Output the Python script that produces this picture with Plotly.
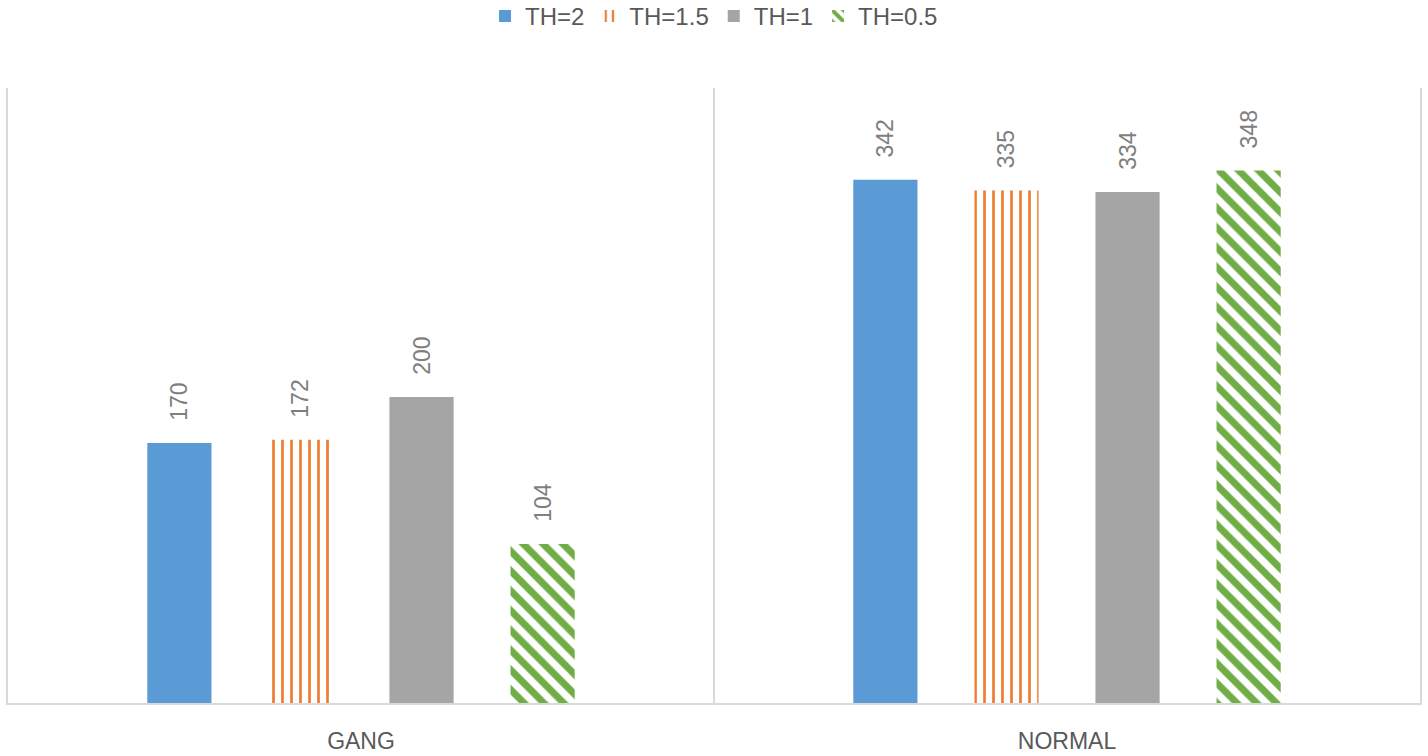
import plotly.graph_objects as go

categories = ["GANG", "NORMAL"]
series_names = ["TH=2", "TH=1.5", "TH=1", "TH=0.5"]
th2 = [170, 342]
th15 = [172, 335]
th1 = [200, 334]
th05 = [104, 348]

values = [th2, th15, th1, th05]
colors = ["#5B9BD5", "#ED7D31", "#A5A5A5", "#70AD47"]
patterns = [None, dict(shape="|", fgcolor="#ED7D31", bgcolor="white", size=9, solidity=0.3, fillmode="replace"),
            None, dict(shape="\\", fgcolor="#70AD47", bgcolor="white", size=14, solidity=0.5, fillmode="replace")]

fig = go.Figure()
pad = "\u00a0" * 3
for name, vals, col, pat in zip(series_names, values, colors, patterns):
    marker = dict(color=col if pat is None else "white", line=dict(width=0))
    if pat is not None:
        marker["pattern"] = pat
    fig.add_trace(go.Bar(
        x=categories, y=vals, name=name, marker=marker,
        text=vals, texttemplate=pad + "%{text}", textposition="outside",
        textangle=-90, cliponaxis=False,
        textfont=dict(family="Liberation Sans, Arial", size=23, color="#7F7F7F"),
    ))

fig.update_layout(
    width=1428, height=756,
    barmode="group", bargap=0.314, bargroupgap=0.47,
    plot_bgcolor="white", paper_bgcolor="white",
    margin=dict(l=8, r=8, t=88, b=53, autoexpand=False),
    showlegend=True,
    legend=dict(orientation="h", x=0.5, xanchor="center", y=1.153, yref="paper", yanchor="top",
                font=dict(family="Liberation Sans, Arial", size=24, color="#595959"),
                itemwidth=30, tracegroupgap=0, traceorder="normal"),
    xaxis=dict(showline=True, linecolor="#D9D9D9", linewidth=2, showgrid=False, zeroline=False,
               ticks="", ticklabelstandoff=16, automargin=False,
               tickfont=dict(family="Liberation Sans, Arial", size=23, color="#595959")),
    yaxis=dict(range=[0, 402], showline=True, mirror=True, linecolor="#D9D9D9", linewidth=2,
               showgrid=False, zeroline=False, showticklabels=False, ticks="", automargin=False),
    shapes=[dict(type="line", xref="x", yref="paper", x0=0.5, x1=0.5, y0=0, y1=1,
                 line=dict(color="#D9D9D9", width=2))],
)

fig.write_html("out.html", config={"displayModeBar": False},
               post_script="document.body.style.margin='0';document.body.style.overflow='hidden';")
